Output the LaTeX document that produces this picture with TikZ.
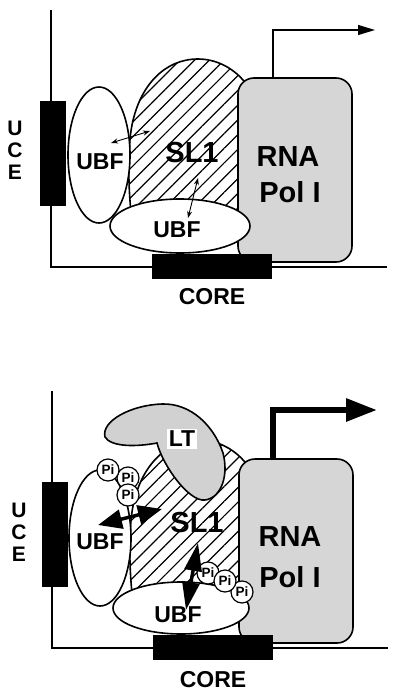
\documentclass[tikz,border=0pt]{standalone}
\usepackage{fontspec}
\setmainfont{Liberation Sans}
\usetikzlibrary{positioning,shapes,arrows.meta,patterns.meta}
\definecolor{polgray}{gray}{0.84}
\definecolor{ltgray}{gray}{0.82}

\tikzset{
	ubf/.style={ellipse,draw,line width=1.6pt,fill=white,inner sep=0pt},
	polbox/.style={rectangle,rounded corners=16pt,draw,line width=1.6pt,fill=polgray,
		minimum width=114pt,minimum height=184pt},
	dnabar/.style={rectangle,fill=black,inner sep=0pt},
	pibox/.style={circle,draw,line width=1.2pt,fill=white,inner sep=0pt,minimum size=22pt,
		font=\fontsize{13.5}{14}\selectfont\bfseries},
	biglbl/.style={inner sep=0pt,font=\fontsize{29}{31}\selectfont\bfseries},
	lbl/.style={inner sep=0pt,font=\fontsize{23}{25}\selectfont\bfseries},
	letter/.style={inner sep=0pt,font=\fontsize{21}{22}\selectfont\bfseries},
	hatch/.style={draw,line width=1.6pt,pattern={Lines[angle=45,distance=10.4pt,line width=1.2pt]}},
	axis/.style={line width=1.4pt},
}

\begin{document}
\begin{tikzpicture}[x=1pt,y=-1pt]
	\useasboundingbox (0,0) rectangle (400,696);
	
	% basal complex
	\begin{scope}
		\coordinate (axtop) at (51,10);
		\coordinate (axcorner) at (51,267);
		\coordinate (axend) at (387,267);
		\draw[axis] (axtop) -- (axcorner) -- (axend);
		\path[hatch] (134,235) .. controls (128,200) and (127,150) .. (132,125)
			.. controls (140,85) and (165,59) .. (198,59)
			.. controls (220,59) and (240,72) .. (250,90) -- (250,240) -- cycle;
		\node[polbox] (pol) at (295,170) {};
		\node[ubf,minimum width=62pt,minimum height=136pt] (ubfL) at (99,155) {};
		\node[ubf,minimum width=140pt,minimum height=54pt] (ubfB) at (180,226) {};
		\coordinate (tss) at (273,30);
		\coordinate (tsend) at (375,30);
		\draw[line width=1.2pt,-{Triangle[length=17pt,width=10pt]}] (pol.north -| tss) -- (tss) -- (tsend);
		\coordinate (a1) at (111,143);
		\coordinate (a2) at (150,131);
		\coordinate (b1) at (198,178);
		\coordinate (b2) at (188,218);
		\draw[line width=0.9pt,{Stealth[length=7pt,width=5pt]}-{Stealth[length=7pt,width=5pt]}] (a1) -- (a2);
		\draw[line width=0.9pt,{Stealth[length=7pt,width=5pt]}-{Stealth[length=7pt,width=5pt]}] (b1) -- (b2);
		\node[dnabar,minimum width=26pt,minimum height=105pt] (uce) at (53,153.5) {};
		\node[dnabar,minimum width=120pt,minimum height=25pt] (core) at (212,266.5) {};
		\node[biglbl] (sl1) at (192,153) {SL1};
		\node[biglbl] (rna) at (288,157) {RNA};
		\node[biglbl] (pol1) at (290,192) {Pol I};
		\node[lbl] (ubfLtxt) at (100,162) {UBF};
		\node[lbl] (ubfBtxt) at (177,230) {UBF};
		\node[lbl] (coretxt) at (212,297) {CORE};
		\node[letter] (u) at (15,128) {U};
		\node[letter] (c) at (15,150) {C};
		\node[letter] (e) at (15,172) {E};
	\end{scope}
	
	% with LT
	\begin{scope}[shift={(1,381)}]
		\coordinate (axtop2) at (51,10);
		\coordinate (axcorner2) at (51,267);
		\coordinate (axend2) at (387,267);
		\draw[axis] (axtop2) -- (axcorner2) -- (axend2);
		\path[hatch] (134,235) .. controls (128,200) and (127,150) .. (132,125)
			.. controls (140,85) and (165,59) .. (198,59)
			.. controls (220,59) and (240,72) .. (250,90) -- (250,240) -- cycle;
		\node[polbox] (polb) at (295,170) {};
		\draw[line width=1.6pt,fill=ltgray] (104,56) .. controls (100,40) and (130,24) .. (161,23)
			.. controls (190,22) and (213,45) .. (222,72)
			.. controls (228,95) and (220,117) .. (204,119)
			.. controls (188,121) and (162,85) .. (156,62)
			.. controls (135,66) and (110,66) .. (104,56) -- cycle;
		\node[lbl,fill=white,inner sep=2pt] (lt) at (181,58) {LT};
		\node[ubf,minimum width=62pt,minimum height=136pt] (ubfL2) at (99,157) {};
		\node[ubf,minimum width=136pt,minimum height=52pt] (ubfB2) at (180,227) {};
		\node[pibox] (pi2) at (127,97) {Pi};
		\node[pibox] (pi1) at (107,89) {Pi};
		\node[pibox] (pi3) at (127,114) {Pi};
		\node[pibox] (pi4) at (207,192) {Pi};
		\node[pibox] (pi6) at (241,211) {Pi};
		\node[pibox] (pi5) at (224,200) {Pi};
		\coordinate (tss2) at (272,29);
		\coordinate (tsend2) at (376,29);
		\draw[line width=6pt,-{Triangle[length=31pt,width=22pt]}] (polb.north -| tss2) -- (tss2) -- (tsend2);
		\coordinate (c1) at (97,144);
		\coordinate (c2) at (161,128);
		\coordinate (d1) at (197,162);
		\coordinate (d2) at (185,229);
		\draw[line width=3.5pt,{Triangle[length=24pt,width=19pt]}-{Triangle[length=24pt,width=19pt]}] (c1) -- (c2);
		\draw[line width=3.5pt,{Triangle[length=28pt,width=17pt]}-{Triangle[length=28pt,width=17pt]}] (d1) -- (d2);
		\node[dnabar,minimum width=26pt,minimum height=105pt] (uce2) at (54,153.5) {};
		\node[dnabar,minimum width=120pt,minimum height=25pt] (core2) at (212,266.5) {};
		\node[biglbl] (sl12) at (196,142) {SL1};
		\node[biglbl] (rna2) at (289,156) {RNA};
		\node[biglbl] (pol12) at (289,196) {Pol I};
		\node[lbl] (ubfLtxt2) at (99,161) {UBF};
		\node[lbl] (ubfBtxt2) at (177,234) {UBF};
		\node[lbl] (coretxt2) at (212,299) {CORE};
		\node[letter] (u2) at (18,129) {U};
		\node[letter] (c2txt) at (18,151) {C};
		\node[letter] (e2) at (18,173) {E};
	\end{scope}
\end{tikzpicture}
\end{document}
